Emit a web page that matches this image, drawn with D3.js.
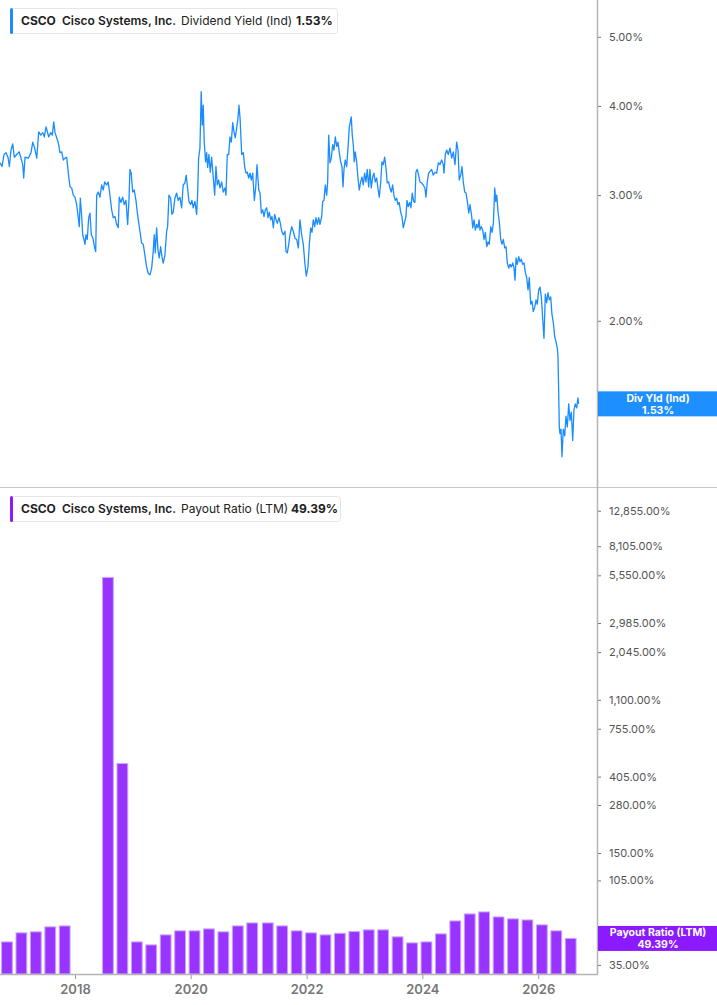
<!DOCTYPE html>
<html><head><meta charset="utf-8">
<script src="https://cdn.jsdelivr.net/npm/d3@7"></script>
<style>
body{margin:0;background:#fff;}
svg{display:block;font-family:Inter,"Noto Sans",sans-serif;}
</style>
</head><body><svg id="c" width="717" height="1005"></svg>
<script>
// ---------- DATA ----------
const yieldTicks = [2, 3, 4, 5];
const payoutTicks = [35, 50, 105, 150, 280, 405, 755, 1100, 2045, 2985, 5550, 8105, 12855];
const xTickYears = [2018, 2020, 2022, 2024, 2026];

const payoutDates = ["2016-10-29","2017-01-28","2017-04-29","2017-07-29","2017-10-28","2018-01-27","2018-04-28","2018-07-28","2018-10-27","2019-01-26","2019-04-27","2019-07-27","2019-10-26","2020-01-25","2020-04-25","2020-07-25","2020-10-24","2021-01-23","2021-05-01","2021-07-31","2021-10-30","2022-01-29","2022-04-30","2022-07-30","2022-10-29","2023-01-28","2023-04-29","2023-07-29","2023-10-28","2024-01-27","2024-04-27","2024-07-27","2024-10-26","2025-01-25","2025-04-26","2025-07-26","2025-10-25","2026-01-24","2026-04-25","2026-07-25"];
const payoutValues = [47.2,53.1,53.8,57.4,58.1,null,null,5400,480,47.2,45.4,51.7,54.5,54.5,55.9,53.8,58.1,60.4,60.4,58.1,54.5,53.1,51.7,52.8,54.0,55.2,55.2,50.4,46.6,47.2,52.4,62.0,67.9,69.7,65.3,63.7,62.8,58.9,54.5,49.39];

// [decimal year, dividend yield %]
const dividendYield = [
[2016.705,3.33],[2016.740,3.29],[2016.774,3.42],[2016.809,3.44],[2016.843,3.39],[2016.866,3.29],[2016.895,3.47],[2016.924,3.54],[2016.952,3.39],[2016.993,3.42],[2017.033,3.45],[2017.063,3.39],[2017.097,3.31],[2017.114,3.17],[2017.137,3.39],[2017.194,3.38],[2017.240,3.44],[2017.270,3.56],[2017.304,3.49],[2017.339,3.38],[2017.373,3.68],[2017.408,3.64],[2017.443,3.67],[2017.470,3.62],[2017.500,3.74],[2017.546,3.62],[2017.581,3.67],[2017.608,3.64],[2017.633,3.80],[2017.655,3.67],[2017.684,3.61],[2017.712,3.55],[2017.741,3.44],[2017.771,3.45],[2017.798,3.36],[2017.828,3.38],[2017.857,3.39],[2017.885,3.22],[2017.914,3.08],[2017.943,3.07],[2017.971,3.00],[2018.000,2.98],[2018.029,2.91],[2018.057,2.79],[2018.074,2.71],[2018.092,2.97],[2018.116,2.80],[2018.133,2.64],[2018.155,2.60],[2018.173,2.56],[2018.190,2.64],[2018.212,2.60],[2018.237,2.79],[2018.259,2.83],[2018.282,2.64],[2018.311,2.61],[2018.340,2.53],[2018.358,2.50],[2018.375,3.00],[2018.402,3.03],[2018.432,2.98],[2018.461,3.10],[2018.489,3.05],[2018.513,3.13],[2018.547,3.10],[2018.575,3.13],[2018.604,3.00],[2018.634,2.86],[2018.661,2.79],[2018.691,2.80],[2018.720,2.73],[2018.748,2.70],[2018.765,2.98],[2018.794,2.93],[2018.824,2.98],[2018.851,2.91],[2018.881,2.95],[2018.910,2.73],[2018.933,2.95],[2018.950,3.26],[2018.972,3.22],[2018.997,3.03],[2019.024,3.05],[2019.054,2.95],[2019.076,2.84],[2019.100,2.75],[2019.123,2.67],
[2019.152,2.57],[2019.180,2.56],[2019.209,2.47],[2019.238,2.38],[2019.266,2.33],[2019.295,2.32],[2019.325,2.37],[2019.352,2.50],[2019.370,2.64],[2019.387,2.49],[2019.411,2.70],[2019.434,2.51],[2019.456,2.45],[2019.480,2.54],[2019.503,2.46],[2019.525,2.41],[2019.554,2.47],[2019.584,2.67],[2019.601,2.71],[2019.624,3.00],[2019.653,2.97],[2019.675,2.82],[2019.698,2.84],[2019.727,2.97],[2019.757,3.02],[2019.784,2.95],[2019.814,2.98],[2019.843,2.88],[2019.870,3.10],[2019.900,3.12],[2019.922,3.20],[2019.946,3.07],[2019.969,2.94],[2019.998,2.91],[2020.021,2.95],[2020.043,2.88],[2020.073,2.94],[2020.102,2.82],[2020.119,3.00],[2020.136,3.38],[2020.159,3.49],[2020.181,4.19],[2020.199,3.76],[2020.216,4.01],[2020.233,3.56],[2020.257,3.34],[2020.275,3.44],[2020.292,3.28],[2020.314,3.42],[2020.337,3.23],[2020.361,3.39],[2020.389,3.17],[2020.413,3.00],[2020.435,3.29],[2020.458,3.10],[2020.482,3.15],[2020.504,3.07],[2020.534,3.13],[2020.561,3.03],[2020.591,3.07],[2020.608,3.00],[2020.630,3.42],[2020.655,3.42],[2020.677,3.62],[2020.700,3.56],[2020.724,3.79],[2020.746,3.68],[2020.769,3.61],[2020.793,3.73],[2020.815,3.85],[2020.832,4.01],[2020.850,3.85],[2020.879,3.42],[2020.907,3.44],[2020.931,3.28],[2020.953,3.22],[2020.976,3.23],[2021.000,3.17],[2021.022,3.22],[2021.045,3.15],[2021.069,3.22],[2021.097,2.95],[2021.121,3.08],[2021.143,3.31],[2021.173,3.05],[2021.195,3.02],[2021.218,2.83],[2021.242,2.86],[2021.264,2.80],[2021.287,2.86],[2021.311,2.88],[2021.333,2.79],[2021.356,2.84],[2021.380,2.77],[2021.402,2.80],[2021.425,2.70],[2021.449,2.82],[2021.471,2.77],[2021.494,2.74],[2021.523,2.79],[2021.546,2.74],
[2021.570,2.67],[2021.598,2.64],[2021.627,2.67],[2021.644,2.50],[2021.667,2.49],[2021.691,2.56],[2021.713,2.64],[2021.743,2.71],[2021.770,2.67],[2021.800,2.61],[2021.829,2.60],[2021.857,2.53],[2021.886,2.77],[2021.915,2.64],[2021.943,2.56],[2021.972,2.40],[2021.995,2.31],[2022.024,2.38],[2022.047,2.56],[2022.071,2.70],[2022.093,2.66],[2022.116,2.77],[2022.140,2.71],[2022.162,2.79],[2022.185,2.73],[2022.209,2.79],[2022.231,2.73],[2022.261,2.80],[2022.278,2.94],[2022.301,2.95],[2022.323,3.10],[2022.347,3.00],[2022.364,3.13],[2022.382,3.64],[2022.404,3.33],[2022.427,3.38],[2022.451,3.53],[2022.473,3.47],[2022.496,3.62],[2022.520,3.51],[2022.542,3.56],[2022.565,3.44],[2022.589,3.34],[2022.611,3.29],[2022.629,3.08],[2022.646,3.26],[2022.668,3.36],[2022.693,3.29],[2022.715,3.49],[2022.737,3.73],[2022.755,3.80],[2022.772,3.86],[2022.789,3.64],[2022.807,3.53],[2022.824,3.34],[2022.841,3.45],[2022.865,3.34],[2022.888,3.17],[2022.910,3.05],[2022.934,3.13],[2022.957,3.18],[2022.979,3.10],[2023.003,3.22],[2023.026,3.13],[2023.048,3.26],[2023.073,3.08],[2023.095,3.26],[2023.117,3.07],[2023.142,3.18],[2023.164,3.22],[2023.187,3.13],[2023.211,3.17],[2023.233,3.07],[2023.256,2.98],[2023.280,3.12],[2023.302,3.34],[2023.325,3.31],[2023.349,3.39],[2023.371,3.28],[2023.394,3.12],[2023.418,3.13],[2023.440,3.07],[2023.463,3.03],[2023.487,3.10],[2023.509,3.00],[2023.532,2.95],[2023.556,2.97],[2023.579,2.91],[2023.601,2.93],[2023.625,2.84],[2023.648,2.80],[2023.670,2.70],[2023.694,2.75],[2023.717,2.80],[2023.734,2.95],[2023.756,2.89],[2023.781,2.93],[2023.803,2.88],[2023.826,3.02],[2023.850,2.94],[2023.872,2.93],[2023.889,3.23],[2023.912,3.26],[2023.936,3.20],[2023.959,3.13],[2023.988,3.12],[2024.016,3.10],[2024.045,3.07],[2024.062,2.98],[2024.085,3.13],[2024.109,3.22],
[2024.161,3.26],[2024.188,3.20],[2024.218,3.23],[2024.247,3.22],[2024.275,3.33],[2024.304,3.31],[2024.333,3.36],[2024.361,3.31],[2024.373,3.22],[2024.396,3.42],[2024.420,3.47],[2024.447,3.42],[2024.477,3.49],[2024.506,3.38],[2024.534,3.45],[2024.563,3.31],[2024.592,3.56],[2024.615,3.47],[2024.637,3.15],[2024.662,3.20],[2024.684,3.29],[2024.706,3.13],[2024.731,3.03],[2024.753,3.02],[2024.776,2.94],[2024.800,2.83],[2024.822,2.91],[2024.851,2.80],[2024.869,2.70],[2024.891,2.77],[2024.914,2.68],[2024.938,2.73],[2024.960,2.70],[2024.978,2.77],[2024.995,2.68],[2025.017,2.71],[2025.041,2.68],[2025.064,2.60],[2025.086,2.66],[2025.111,2.54],[2025.133,2.58],[2025.155,2.56],[2025.180,2.71],[2025.202,2.66],[2025.225,2.74],[2025.249,3.07],[2025.266,2.94],[2025.283,3.00],[2025.306,2.84],[2025.328,2.75],[2025.352,2.60],[2025.375,2.56],[2025.397,2.60],[2025.421,2.53],[2025.444,2.54],[2025.466,2.41],[2025.490,2.37],[2025.513,2.40],[2025.535,2.38],[2025.560,2.41],[2025.582,2.37],[2025.599,2.28],[2025.617,2.45],[2025.639,2.40],[2025.663,2.46],[2025.686,2.42],[2025.708,2.44],[2025.732,2.40],[2025.755,2.41],[2025.777,2.34],[2025.801,2.30],[2025.824,2.21],[2025.846,2.30],[2025.870,2.11],[2025.893,2.13],[2025.915,2.06],[2025.940,2.09],[2025.962,2.14],[2025.984,2.11],[2026.009,2.21],[2026.031,2.23],[2026.054,2.16],[2026.078,2.01],[2026.100,1.89],[2026.123,2.18],[2026.147,2.12],[2026.169,2.19],[2026.192,2.14],[2026.216,2.16],[2026.238,2.04],[2026.261,1.99],[2026.285,1.90],[2026.307,1.87],[2026.330,1.83],[2026.342,1.78],[2026.354,1.59],[2026.364,1.42],[2026.376,1.39],[2026.394,1.41],[2026.411,1.29],[2026.433,1.41],[2026.458,1.38],[2026.480,1.47],[2026.503,1.42],[2026.527,1.53],[2026.549,1.45],[2026.572,1.49],[2026.596,1.36],[2026.618,1.50],[2026.641,1.53],[2026.665,1.51],[2026.687,1.56],[2026.699,1.53]
];

const lastYield = 1.53;
const lastPayout = 49.39;

// ---------- LAYOUT ----------
const W = 717, H = 1005;
const plotRight = 597;
const topY0 = 0, topY1 = 487, botY0 = 487, botY1 = 974;
const blue = "#1a8cff", blueLbl = "#1e8fff";
const purple = "#9933ff", purpleLbl = "#8c1aff";

function yearToDate(d){const y=Math.floor(d);const a=Date.UTC(y,0,1),b=Date.UTC(y+1,0,1);return new Date(a+(d-y)*(b-a));}
const parse = d3.utcParse("%Y-%m-%d");

const svg = d3.select("#c");

const x = d3.scaleUtc().domain([yearToDate(2016.705), yearToDate(2027.016)]).range([0, plotRight]);
const yTop = d3.scaleLog().domain([1.17, 5.63]).range([topY1, topY0]);
const yBot = d3.scaleLog().domain([31.1, 17500]).range([botY1, botY0]);

// clip
svg.append("clipPath").attr("id","clipTop").append("rect").attr("x",0).attr("y",topY0).attr("width",plotRight).attr("height",topY1-topY0);
svg.append("clipPath").attr("id","clipBot").append("rect").attr("x",0).attr("y",botY0).attr("width",plotRight).attr("height",botY1-botY0);

// separator
svg.append("line").attr("x1",0).attr("x2",W).attr("y1",topY1+0.5).attr("y2",topY1+0.5).attr("stroke","#c8c8c8").attr("stroke-width",1);

// line
const line = d3.line().x(d=>x(yearToDate(d[0]))).y(d=>yTop(d[1]));
svg.append("path").datum(dividendYield).attr("clip-path","url(#clipTop)")
  .attr("d",line).attr("fill","none").attr("stroke",blue).attr("stroke-width",1.3).attr("stroke-linejoin","round");

// bars
const dayPx = x(parse("2020-01-02")) - x(parse("2020-01-01"));
const barW = 68*dayPx;
const bars = payoutDates.map((d,i)=>({date:parse(d), v:payoutValues[i]})).filter(d=>d.v!=null);
svg.append("g").attr("clip-path","url(#clipBot)").selectAll("rect").data(bars).join("rect")
  .attr("x",d=>x(d.date)-barW/2).attr("width",barW)
  .attr("y",d=>yBot(d.v)).attr("height",d=>botY1-yBot(d.v))
  .attr("fill",purple).attr("stroke","#c9a3ff").attr("stroke-width",1);

// axes styling helper
function styleAxis(g){
  g.select(".domain").remove();
  g.selectAll(".tick line").attr("stroke","#777");
  g.selectAll(".tick text").attr("fill","#555").attr("font-size",11).attr("font-family","Inter,'Noto Sans',sans-serif");
}
const axTop = svg.append("g").attr("transform",`translate(${plotRight+1},0)`)
  .call(d3.axisRight(yTop).tickValues(yieldTicks).tickFormat(d=>d.toFixed(2)+"%").tickSize(3).tickPadding(8));
styleAxis(axTop);
const fmtP = d3.format(",.2f");
const axBot = svg.append("g").attr("transform",`translate(${plotRight+1},0)`)
  .call(d3.axisRight(yBot).tickValues(payoutTicks).tickFormat(d=>fmtP(d)+"%").tickSize(3).tickPadding(8));
styleAxis(axBot);

// x axis
const axX = svg.append("g").attr("transform",`translate(0,${botY1})`)
  .call(d3.axisBottom(x).tickValues(xTickYears.map(y=>new Date(Date.UTC(y,0,1)))).tickFormat(d3.utcFormat("%Y")).tickSize(5).tickPadding(6));
axX.select(".domain").remove();
axX.selectAll(".tick line").attr("stroke","#999");
axX.selectAll(".tick text").attr("fill","#777").attr("font-size",13).attr("font-weight",600).attr("font-family","Inter,'Noto Sans',sans-serif");

// frame lines (right axis + bottom axis)
svg.append("path").attr("d",`M${plotRight+0.5},0 V${botY1+0.5} H0`).attr("fill","none").attr("stroke","#b4b4b4").attr("stroke-width",1.5);

// right value labels
function valueLabel(yc, color, l1, l2){
  const g = svg.append("g");
  g.append("rect").attr("x",plotRight+1).attr("y",yc-12.5).attr("width",W-plotRight-1).attr("height",25).attr("fill",color);
  const cx = (plotRight+W)/2+1;
  g.append("text").attr("x",cx).attr("y",yc-2).attr("text-anchor","middle").attr("fill","#fff").attr("font-size",10.5).attr("font-weight",700).text(l1);
  g.append("text").attr("x",cx).attr("y",yc+9.8).attr("text-anchor","middle").attr("fill","#fff").attr("font-size",10.5).attr("font-weight",700).text(l2);
}
valueLabel(yTop(lastYield), blueLbl, "Div Yld (Ind)", lastYield.toFixed(2)+"%");
valueLabel(yBot(lastPayout), purpleLbl, "Payout Ratio (LTM)", lastPayout.toFixed(2)+"%");

// legends
function legend(y0, w, color, metric, val, valX){
  const g = svg.append("g");
  g.append("rect").attr("x",10.5).attr("y",y0+0.5).attr("width",w).attr("height",25).attr("rx",3).attr("fill","#fff").attr("stroke","#e6e6e6");
  g.append("rect").attr("x",10).attr("y",y0).attr("width",3).attr("height",26).attr("rx",1.5).attr("fill",color);
  const t = g.append("text").attr("y",y0+17).attr("font-size",12).attr("fill","#222");
  t.append("tspan").attr("x",21).attr("font-weight",700).text("CSCO");
  t.append("tspan").attr("x",62).attr("font-weight",600).text("Cisco Systems, Inc.");
  t.append("tspan").attr("x",181).attr("font-weight",400).text(metric);
  t.append("tspan").attr("x",valX).attr("font-weight",700).text(val);
}
legend(8, 327, blue, "Dividend Yield (Ind)", lastYield.toFixed(2)+"%", 296);
legend(496, 330, "#8c1aff", "Payout Ratio (LTM)", lastPayout.toFixed(2)+"%", 291);
</script>
</body></html>
